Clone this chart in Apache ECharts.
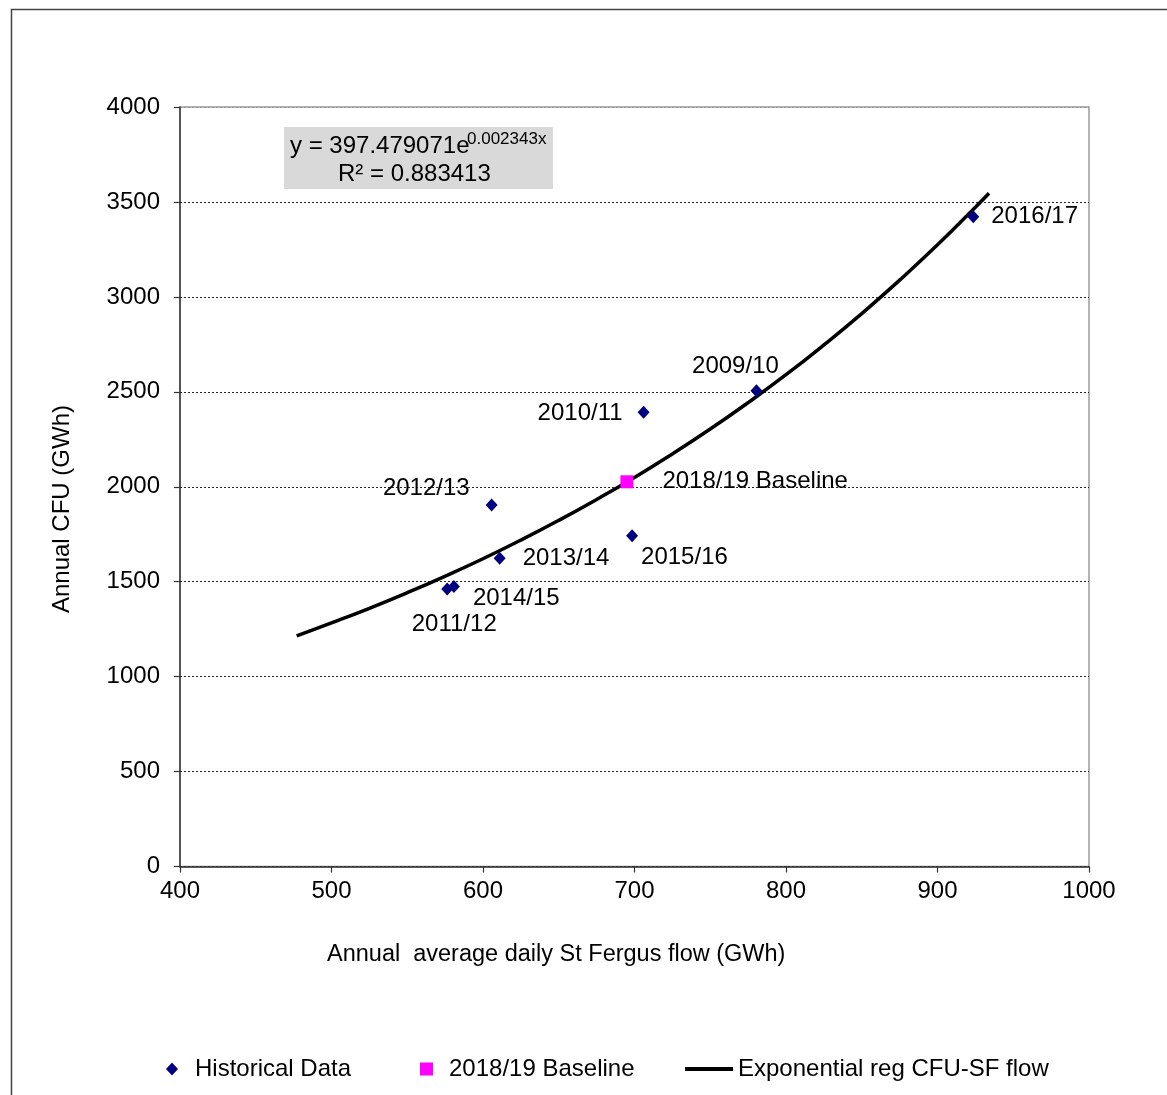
<!DOCTYPE html>
<html>
<head>
<meta charset="utf-8">
<script src="https://cdn.jsdelivr.net/npm/echarts@6/dist/echarts.min.js"></script>
<style>
html,body{margin:0;padding:0;background:#fff;}
#chart{width:1167px;height:1095px;}
</style>
</head>
<body>
<div id="chart"></div>
<script>
// ---- data ----
var historicalNames = ['2016/17','2009/10','2010/11','2012/13','2013/14','2015/16','2014/15','2011/12'];
var historicalX = [923.6, 780.5, 706, 605.7, 611, 698.4, 580.8, 576.4];
var historicalY = [3422, 2506, 2392, 1904, 1623, 1742, 1474, 1461];
var baselineName = '2018/19 Baseline';
var baselineX = [695];
var baselineY = [2026];
var trendX = [477, 500, 525, 550, 575, 600, 625, 650, 675, 700, 725, 750, 775, 800, 825, 850, 875, 900, 925, 934];
var trendY = [1215, 1283, 1360, 1442, 1529, 1621, 1719, 1823, 1933, 2049, 2173, 2304, 2443, 2590, 2747, 2912, 3088, 3274, 3472, 3546];
var xTicks = {min: 400, max: 1000, step: 100};
var yTicks = {min: 0, max: 4000, step: 500};
var seriesNames = ['Historical Data', '2018/19 Baseline', 'Exponential reg CFU-SF flow'];
var equationMain = 'y = 397.479071e';
var equationSup = '0.002343x';
var equationR2 = 'R\u00b2 = 0.883413';
var xTitle = 'Annual  average daily St Fergus flow (GWh)';
var yTitle = 'Annual CFU (GWh)';

// ---- label styling (placement only) ----
var FONT = 'Liberation Sans, Arial, sans-serif';
var FS = 24;
var labelStyle = {
  '2016/17': {position: 'right', distance: 12, offset: [0, 0]},
  '2009/10': {position: 'top', distance: 6, offset: [-21, 0]},
  '2010/11': {position: 'left', distance: 15, offset: [0, 1]},
  '2012/13': {position: 'left', distance: 16, offset: [0, -17]},
  '2013/14': {position: 'right', distance: 17, offset: [0, 0]},
  '2015/16': {position: 'right', distance: 3, offset: [0, 22]},
  '2014/15': {position: 'right', distance: 13, offset: [0, 12]},
  '2011/12': {position: 'bottom', distance: 17, offset: [7, 0]}
};

var histData = historicalNames.map(function (n, i) {
  var s = labelStyle[n];
  return {
    name: n,
    value: [historicalX[i], historicalY[i]],
    label: {show: true, formatter: n, position: s.position, distance: s.distance, offset: s.offset,
            color: '#000', fontFamily: FONT, fontSize: FS, opacity: 1}
  };
});
var baseData = baselineX.map(function (x, i) {
  return {
    name: baselineName,
    value: [x, baselineY[i]],
    label: {show: true, formatter: baselineName, position: 'right', distance: 29,
            color: '#000', fontFamily: FONT, fontSize: FS, opacity: 1}
  };
});
var trendData = trendX.map(function (x, i) { return [x, trendY[i]]; });

var gridColors = [];
for (var v = yTicks.min; v <= yTicks.max; v += yTicks.step) {
  gridColors.push(v === yTicks.max ? '#999999' : '#222222');
}

var chart = echarts.init(document.getElementById('chart'), null, {renderer: 'canvas'});
function legendText(pad) {
  return {fontFamily: FONT, fontSize: FS, color: '#000', padding: [0, 0, 0, pad]};
}
chart.setOption({
  backgroundColor: '#ffffff',
  animation: false,
  textStyle: {fontFamily: FONT, color: '#000'},
  grid: {
    left: 180, top: 107, right: 78, bottom: 228.5,
    show: true, borderColor: '#999999', borderWidth: 1.5, backgroundColor: 'transparent'
  },
  xAxis: {
    type: 'value', min: xTicks.min, max: xTicks.max, interval: xTicks.step,
    axisLine: {show: true, onZero: false, lineStyle: {color: '#333', width: 1.5}},
    axisTick: {show: true, inside: false, length: 6, lineStyle: {color: '#333', width: 1.2}},
    axisLabel: {fontFamily: FONT, fontSize: FS, color: '#000', margin: 13,
                formatter: function (val) { return String(val); }},
    splitLine: {show: false}
  },
  yAxis: {
    type: 'value', min: yTicks.min, max: yTicks.max, interval: yTicks.step,
    axisLine: {show: true, onZero: false, lineStyle: {color: '#333', width: 1.5}},
    axisTick: {show: true, inside: false, length: 6, lineStyle: {color: '#333', width: 1.2}},
    axisLabel: {fontFamily: FONT, fontSize: FS, color: '#000', margin: 20,
                formatter: function (val) { return String(val); }},
    splitLine: {show: true, lineStyle: {color: gridColors, width: 1, type: [2, 2]}}
  },
  legend: [
    {
      data: [{name: seriesNames[0], icon: 'diamond'}],
      left: 161, top: 1052, itemWidth: 12, itemHeight: 13,
      textStyle: legendText(12), selectedMode: false, itemStyle: {opacity: 1}
    },
    {
      data: [{name: seriesNames[1], icon: 'rect'}],
      left: 415, top: 1052, itemWidth: 13, itemHeight: 13,
      textStyle: legendText(11), selectedMode: false, itemStyle: {opacity: 1}
    },
    {
      data: [{name: seriesNames[2], icon: 'rect'}],
      left: 680, top: 1052, itemWidth: 48, itemHeight: 4,
      textStyle: legendText(0), selectedMode: false
    }
  ],
  series: [
    {
      name: seriesNames[2], type: 'line', data: trendData, smooth: true,
      symbol: 'none', showSymbol: false, z: 2,
      lineStyle: {color: '#000', width: 3.5}, itemStyle: {color: '#000'}
    },
    {
      name: seriesNames[0], type: 'scatter', data: histData,
      symbol: 'diamond', symbolSize: [12, 13], z: 3,
      itemStyle: {color: '#000080', opacity: 1},
      label: {fontFamily: FONT, fontSize: FS, color: '#000'}
    },
    {
      name: seriesNames[1], type: 'scatter', data: baseData,
      symbol: 'rect', symbolSize: 13, z: 3,
      itemStyle: {color: '#ff00ff', opacity: 1},
      label: {fontFamily: FONT, fontSize: FS, color: '#000'}
    }
  ],
  graphic: [
    {
      type: 'rect', left: 9, top: 7, silent: true, z: -10,
      shape: {x: 0, y: 0, width: 1175, height: 1110},
      style: {fill: 'none', stroke: '#444', lineWidth: 1.5}
    },
    {
      type: 'rect', left: 284, top: 127, silent: true, z: 10,
      shape: {width: 269, height: 62},
      style: {fill: '#d9d9d9'}
    },
    {
      type: 'text', left: 290, top: 134, silent: true, z: 11,
      style: {text: equationMain, fontFamily: FONT, fontSize: FS, fill: '#000'}
    },
    {
      type: 'text', left: 467, top: 131, silent: true, z: 11,
      style: {text: equationSup, fontFamily: FONT, fontSize: 17, fill: '#000'}
    },
    {
      type: 'text', left: 338, top: 162, silent: true, z: 11,
      style: {text: equationR2, fontFamily: FONT, fontSize: FS, fill: '#000'}
    },
    {
      type: 'text', left: 327, top: 943, silent: true,
      style: {text: xTitle, fontFamily: FONT, fontSize: 23.5, fill: '#000'}
    },
    {
      type: 'text', left: 50, top: 405, rotation: Math.PI / 2, silent: true,
      style: {text: yTitle, fontFamily: FONT, fontSize: FS, fill: '#000'}
    }
  ]
});
</script>
</body>
</html>
